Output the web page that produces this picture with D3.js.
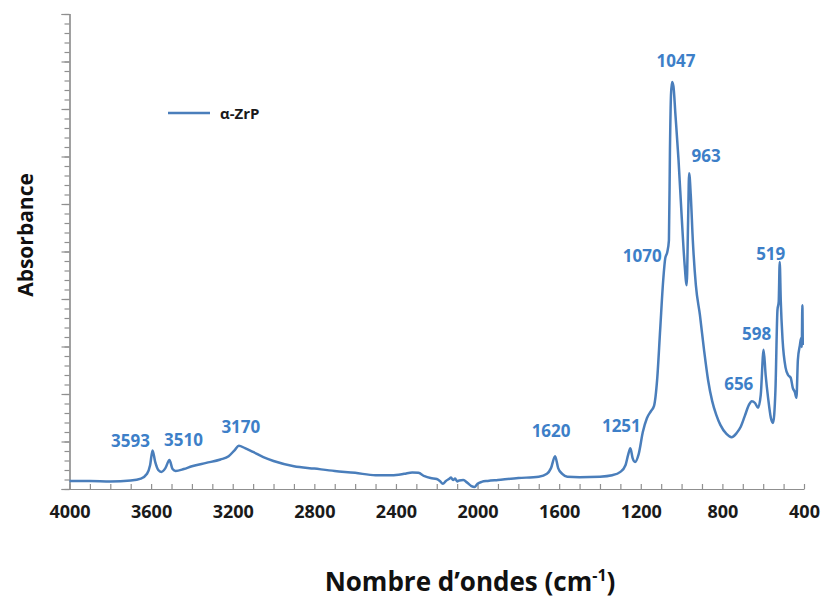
<!DOCTYPE html>
<html>
<head>
<meta charset="utf-8">
<script src="https://cdn.jsdelivr.net/npm/d3@7"></script>
<style>
  html, body { margin: 0; padding: 0; background: #ffffff; }
  svg { display: block; }
  text { font-family: "Open Sans", "Liberation Sans", sans-serif; font-weight: 700; }
</style>
</head>
<body>
<svg id="chart" width="823" height="606"></svg>
<script>
// FTIR spectrum of α-ZrP: wavenumber (cm-1) and absorbance (arbitrary units)
const wavenumbers = [
  4000, 3900, 3800, 3700, 3650, 3620, 3605, 3593, 3580, 3565, 3550, 3530, 3510, 3495, 3480,
  3440, 3400, 3330, 3260, 3220, 3190, 3170, 3140, 3100, 3050, 3000, 2900, 2800, 2700, 2600,
  2500, 2420, 2360, 2320, 2290, 2260, 2230, 2200, 2185, 2170, 2155, 2140, 2130, 2120, 2110,
  2100, 2090, 2070, 2050, 2030, 2015, 2000, 1980, 1950, 1900, 1800, 1700, 1660, 1640, 1620,
  1605, 1585, 1560, 1500, 1400, 1340, 1300, 1275, 1262, 1251, 1240, 1228, 1210, 1190, 1170,
  1150, 1135, 1120, 1105, 1090, 1080, 1070, 1062, 1057, 1052, 1047, 1040, 1030, 1015, 1000,
  985, 975, 968, 963, 955, 945, 930, 910, 890, 870, 850, 830, 810, 780, 755,
  730, 710, 690, 670, 656, 640, 625, 612, 598, 588, 576, 562, 552, 540, 530,
  524, 519, 514, 505, 490, 478, 465, 455, 445, 437, 430, 420, 414, 411, 408, 406
];
const absorbance = [
  0.017, 0.017, 0.016, 0.018, 0.022, 0.032, 0.050, 0.081, 0.057, 0.040, 0.036, 0.044, 0.061, 0.042, 0.038,
  0.042, 0.048, 0.055, 0.062, 0.069, 0.082, 0.091, 0.086, 0.078, 0.067, 0.059, 0.048, 0.043, 0.038, 0.034,
  0.029, 0.029, 0.032, 0.035, 0.034, 0.027, 0.023, 0.021, 0.017, 0.011, 0.017, 0.021, 0.024, 0.019, 0.022,
  0.016, 0.018, 0.019, 0.013, 0.006, 0.004, 0.011, 0.015, 0.017, 0.019, 0.023, 0.026, 0.032, 0.044, 0.069,
  0.044, 0.032, 0.026, 0.025, 0.026, 0.029, 0.036, 0.050, 0.072, 0.086, 0.065, 0.057, 0.074, 0.120, 0.149,
  0.164, 0.175, 0.229, 0.335, 0.440, 0.486, 0.499, 0.524, 0.714, 0.829, 0.857, 0.848, 0.787, 0.693, 0.577,
  0.472, 0.429, 0.566, 0.665, 0.619, 0.524, 0.429, 0.366, 0.293, 0.229, 0.185, 0.156, 0.135, 0.116, 0.109,
  0.118, 0.131, 0.154, 0.177, 0.185, 0.181, 0.171, 0.198, 0.293, 0.240, 0.192, 0.149, 0.139, 0.208, 0.377,
  0.394, 0.478, 0.398, 0.314, 0.255, 0.240, 0.234, 0.213, 0.204, 0.192, 0.272, 0.303, 0.318, 0.299, 0.387, 0.303
];

// Annotated band positions (cm-1)
const peakLabels = [3593, 3510, 3170, 1620, 1251, 1070, 1047, 963, 656, 598, 519];
// Label offsets (dx, dy) in pixels from each band's point on the curve
const peakOffsets = {
  3593: [-22, -4], 3510: [14, -14], 3170: [2, -13], 1620: [-4, -19], 1251: [-9, -16],
  1070: [-25, 10], 1047: [4, -15], 963: [17, -11], 656: [-13, -11], 598: [-7, -10], 519: [-9, -2]
};
const xTickLabels = [4000, 3600, 3200, 2800, 2400, 2000, 1600, 1200, 800, 400];
const seriesName = "α-ZrP";

const lineColor = "#4a7ebb";
const labelColor = "#3d7fc8";
const axisColor = "#8f8f8f";

const svg = d3.select("#chart");
svg.append("rect").attr("width", 823).attr("height", 606).attr("fill", "#ffffff");

const x = d3.scaleLinear().domain([4000, 400]).range([69.5, 804]);
const y = d3.scaleLinear().domain([0, 1]).range([489, 14]);

const data = wavenumbers.map((w, i) => ({ w, a: absorbance[i] }));

// Y axis: major and minor ticks pointing outwards, no labels
const yMinor = d3.axisLeft(y).tickValues(d3.range(0, 1.0001, 0.02)).tickSize(5).tickFormat("");
const yMajor = d3.axisLeft(y).tickValues(d3.range(0, 1.0001, 0.1)).tickSize(8).tickFormat("");
[yMinor, yMajor].forEach(ax => {
  const g = svg.append("g").attr("transform", `translate(${x.range()[0]},0)`).call(ax);
  g.selectAll("path, line").attr("stroke", axisColor).attr("stroke-width", 1.2);
});

// X axis: ticks every 100 cm-1 pointing inwards
const xTicksG = svg.append("g").attr("transform", `translate(0,${y(0)})`)
  .call(d3.axisBottom(x).tickValues(d3.range(400, 4001, 100)).tickSizeInner(-5).tickSizeOuter(0).tickFormat(""));
xTicksG.selectAll("path, line").attr("stroke", axisColor).attr("stroke-width", 1.2);

// X tick labels every 400 cm-1
const xLabelsG = svg.append("g").attr("transform", `translate(0,${y(0)})`)
  .call(d3.axisBottom(x).tickValues(xTickLabels).tickSize(0).tickPadding(16).tickFormat(d3.format("d")));
xLabelsG.select(".domain").remove();
xLabelsG.selectAll("text")
  .attr("font-family", "\"Open Sans\", sans-serif")
  .attr("font-weight", 700)
  .attr("font-size", 18)
  .attr("fill", "#1a1a1a");

// Spectrum
const line = d3.line()
  .x(d => x(d.w))
  .y(d => y(d.a))
  .curve(d3.curveMonotoneX);

svg.append("path")
  .datum(data)
  .attr("d", line)
  .attr("fill", "none")
  .attr("stroke", lineColor)
  .attr("stroke-width", 2.5)
  .attr("stroke-linejoin", "round");

// Band annotations
const lookup = new Map(data.map(d => [d.w, d.a]));
svg.append("g").selectAll("text")
  .data(peakLabels)
  .join("text")
  .attr("x", d => x(d) + peakOffsets[d][0])
  .attr("y", d => y(lookup.get(d)) + peakOffsets[d][1])
  .attr("text-anchor", "middle")
  .attr("font-size", 17)
  .attr("fill", labelColor)
  .text(d => d);

// Legend
const legend = svg.append("g").attr("transform", "translate(168,113)");
legend.append("line").attr("x1", 0).attr("x2", 42).attr("y1", 0).attr("y2", 0)
  .attr("stroke", lineColor).attr("stroke-width", 2.5);
legend.append("text").attr("x", 52).attr("y", 5.5)
  .attr("font-size", 15).attr("fill", "#1a1a1a").text(seriesName);

// Axis titles
svg.append("text")
  .attr("x", 470).attr("y", 591)
  .attr("text-anchor", "middle")
  .attr("font-size", 26)
  .attr("fill", "#111")
  .html("Nombre d’ondes (cm<tspan dy='-10' font-size='16'>-1</tspan><tspan dy='10'>)</tspan>");

svg.append("text")
  .attr("transform", "translate(33,235) rotate(-90)")
  .attr("text-anchor", "middle")
  .attr("font-size", 21)
  .attr("fill", "#111")
  .text("Absorbance");
</script>
</body>
</html>
